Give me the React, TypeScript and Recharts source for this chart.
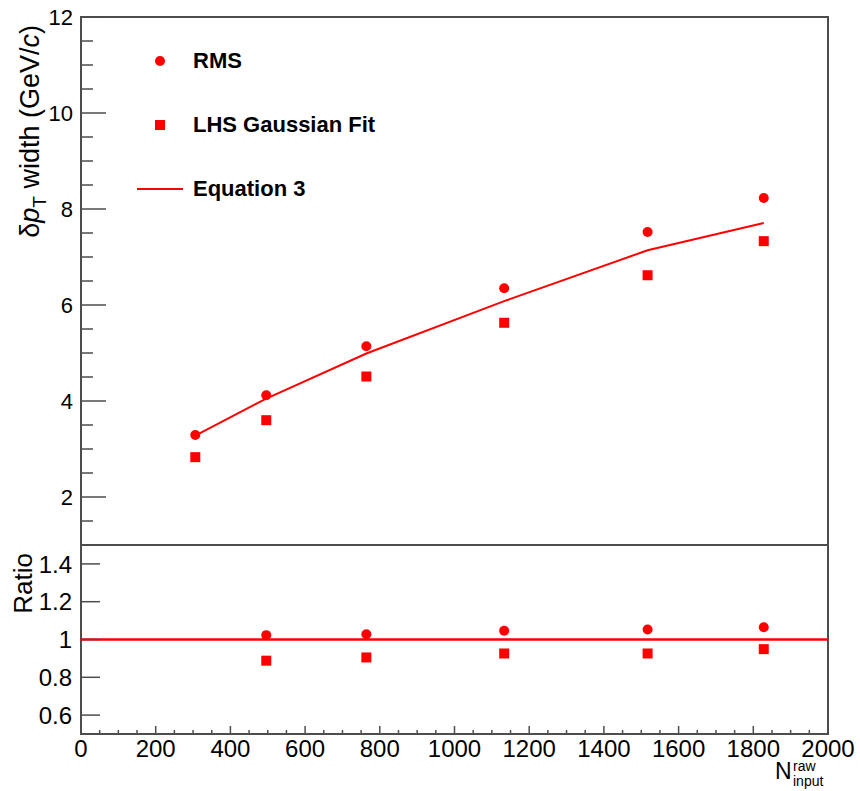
import {
  ComposedChart,
  Line,
  Scatter,
  XAxis,
  YAxis,
  ReferenceArea,
  ReferenceLine,
  Legend,
  Label,
} from "recharts";

const FONT = '"Liberation Sans", Arial, Helvetica, sans-serif';
const RED = "#ff0000";
const AXIS = "#4d4d4d";

// N_input^raw of each centrality point
const nInput = [306, 496, 764, 1133, 1517, 1828];
// delta pT width (GeV/c)
const rmsWidth = [3.29, 4.12, 5.14, 6.35, 7.52, 8.23];
const lhsWidth = [2.83, 3.6, 4.51, 5.63, 6.62, 7.33];
const eq3Width = [3.28, 4.05, 4.99, 6.08, 7.14, 7.71];

// ratio panel (relative to Equation 3)
const ratioN = [496, 764, 1133, 1517, 1828];
const rmsRatio = [1.023, 1.028, 1.046, 1.053, 1.065];
const lhsRatio = [0.888, 0.905, 0.926, 0.926, 0.949];

const xMajorTicks = [0, 200, 400, 600, 800, 1000, 1200, 1400, 1600, 1800, 2000];
const xMinorTicks = [
  50, 100, 150, 250, 300, 350, 450, 500, 550, 650, 700, 750, 850, 900, 950,
  1050, 1100, 1150, 1250, 1300, 1350, 1450, 1500, 1550, 1650, 1700, 1750,
  1850, 1900, 1950,
];
const upperYMajor = [2, 4, 6, 8, 10, 12];
const upperYMinor = [
  1.5, 2.5, 3, 3.5, 4.5, 5, 5.5, 6.5, 7, 7.5, 8.5, 9, 9.5, 10.5, 11, 11.5,
];
const lowerYMajor = [0.6, 0.8, 1, 1.2, 1.4];

const legendItems = [
  { name: "RMS", kind: "circle" },
  { name: "LHS Gaussian Fit", kind: "square" },
  { name: "Equation 3", kind: "line" },
];

const xTicks = [...xMajorTicks, ...xMinorTicks].sort((a, b) => a - b);
const upperYTicks = [...upperYMajor, ...upperYMinor].sort((a, b) => a - b);

const toPoints = (xs: number[], ys: number[]) =>
  xs.map((x, i) => ({ x, y: ys[i] }));

const circleShape = (p: any) => <circle cx={p.cx} cy={p.cy} r={5} fill={RED} />;
const squareShape = (p: any) => (
  <rect x={p.cx - 5} y={p.cy - 5} width={10} height={10} fill={RED} />
);

function UpperYTick(props: any) {
  const { x, y, payload } = props;
  const major = upperYMajor.includes(payload.value);
  return (
    <g>
      <line x1={x} x2={x + (major ? 25 : 12)} y1={y} y2={y} stroke={AXIS} strokeWidth={1.5} />
      {major && (
        <text x={x - 8} y={y} dy="0.36em" textAnchor="end" fontSize={22} fontFamily={FONT} fill="#000">
          {payload.value}
        </text>
      )}
    </g>
  );
}

function LowerYTick(props: any) {
  const { x, y, payload } = props;
  return (
    <g>
      <line x1={x} x2={x + 19} y1={y} y2={y} stroke={AXIS} strokeWidth={1.5} />
      <text x={x - 9} y={y} dy="0.36em" textAnchor="end" fontSize={24} fontFamily={FONT} fill="#000">
        {payload.value}
      </text>
    </g>
  );
}

function UpperXTick(props: any) {
  const { x, y, payload } = props;
  const major = xMajorTicks.includes(payload.value);
  return <line x1={x} x2={x} y1={y} y2={y - (major ? 14 : 7)} stroke={AXIS} strokeWidth={1.5} />;
}

function LowerXTick(props: any) {
  const { x, y, payload } = props;
  const major = xMajorTicks.includes(payload.value);
  return (
    <g>
      <line x1={x} x2={x} y1={y} y2={y - (major ? 8 : 4)} stroke={AXIS} strokeWidth={1.5} />
      {major && (
        <text x={x} y={y + 23} textAnchor="middle" fontSize={24} fontFamily={FONT} fill="#000">
          {payload.value}
        </text>
      )}
    </g>
  );
}

function UpperYTitle(props: any) {
  const vb = props.viewBox;
  const bx = vb.x + 39;
  const ty = vb.y + 8;
  return (
    <text
      x={bx}
      y={ty}
      transform={`rotate(-90 ${bx} ${ty})`}
      textAnchor="end"
      fontSize={27}
      fontFamily={FONT}
      fill="#000"
    >
      δ<tspan fontStyle="italic">p</tspan>
      <tspan fontSize={19} dy={7}>T</tspan>
      <tspan dy={-7}> width (GeV/</tspan>
      <tspan fontStyle="italic">c</tspan>)
    </text>
  );
}

function RatioTitle(props: any) {
  const vb = props.viewBox;
  const bx = vb.x + 32;
  const ty = vb.y + 8;
  return (
    <text
      x={bx}
      y={ty}
      transform={`rotate(-90 ${bx} ${ty})`}
      textAnchor="end"
      fontSize={26}
      fontFamily={FONT}
      fill="#000"
    >
      Ratio
    </text>
  );
}

function XTitle(props: any) {
  const vb = props.viewBox;
  const nx = vb.x + vb.width - 53;
  const base = vb.y + 45;
  return (
    <g fontFamily={FONT} fill="#000">
      <text x={nx} y={base} fontSize={23}>N</text>
      <text x={nx + 18} y={base - 8} fontSize={14}>raw</text>
      <text x={nx + 18} y={base + 7} fontSize={14}>input</text>
    </g>
  );
}

function LegendBox() {
  return (
    <div style={{ fontFamily: FONT, fontWeight: "bold", fontSize: 22, color: "#000" }}>
      {legendItems.map((it) => (
        <div key={it.name} style={{ display: "flex", alignItems: "center", height: 64 }}>
          <svg width={63} height={64} style={{ flex: "none" }}>
            {it.kind === "circle" && <circle cx={30} cy={32} r={5} fill={RED} />}
            {it.kind === "square" && <rect x={25} y={27} width={10} height={10} fill={RED} />}
            {it.kind === "line" && <line x1={7} x2={53} y1={32} y2={32} stroke={RED} strokeWidth={2} />}
          </svg>
          <span style={{ whiteSpace: "nowrap" }}>{it.name}</span>
        </div>
      ))}
    </div>
  );
}

export default function App() {
  return (
    <div style={{ position: "absolute", left: 0, top: 0, width: 860, height: 791, background: "#fff" }}>
      <div style={{ position: "absolute", left: 0, top: 0 }}>
        <ComposedChart width={860} height={550} margin={{ top: 17, right: 32, bottom: 5, left: 0 }}>
          <XAxis
            dataKey="x"
            type="number"
            domain={[0, 2000]}
            ticks={xTicks}
            interval={0}
            height={0}
            tickSize={0}
            tickMargin={0}
            axisLine={false}
            tickLine={false}
            tick={<UpperXTick />}
          />
          <YAxis
            type="number"
            domain={[1, 12]}
            ticks={upperYTicks}
            interval={0}
            width={81}
            tickSize={0}
            tickMargin={0}
            axisLine={false}
            tickLine={false}
            tick={<UpperYTick />}
          >
            <Label content={<UpperYTitle />} />
          </YAxis>
          <ReferenceArea x1={0} x2={2000} y1={1} y2={12} fill="none" stroke={AXIS} strokeWidth={2} />
          <Line
            data={toPoints(nInput, eq3Width)}
            dataKey="y"
            type="linear"
            stroke={RED}
            strokeWidth={2}
            dot={false}
            isAnimationActive={false}
          />
          <Scatter data={toPoints(nInput, rmsWidth)} dataKey="y" shape={circleShape} isAnimationActive={false} />
          <Scatter data={toPoints(nInput, lhsWidth)} dataKey="y" shape={squareShape} isAnimationActive={false} />
          <Legend
            layout="horizontal"
            verticalAlign="middle"
            align="center"
            wrapperStyle={{ left: 130, top: 29, width: 320 }}
            content={() => <LegendBox />}
          />
        </ComposedChart>
      </div>
      <div style={{ position: "absolute", left: 0, top: 540 }}>
        <ComposedChart width={860} height={251} margin={{ top: 5, right: 32, bottom: 0, left: 0 }}>
          <XAxis
            dataKey="x"
            type="number"
            domain={[0, 2000]}
            ticks={xTicks}
            interval={0}
            height={57}
            tickSize={0}
            tickMargin={0}
            axisLine={false}
            tickLine={false}
            tick={<LowerXTick />}
          >
            <Label content={<XTitle />} />
          </XAxis>
          <YAxis
            type="number"
            domain={[0.5, 1.5]}
            ticks={lowerYMajor}
            interval={0}
            width={81}
            tickSize={0}
            tickMargin={0}
            axisLine={false}
            tickLine={false}
            tick={<LowerYTick />}
          >
            <Label content={<RatioTitle />} />
          </YAxis>
          <ReferenceArea x1={0} x2={2000} y1={0.5} y2={1.5} fill="none" stroke={AXIS} strokeWidth={2} />
          <ReferenceLine y={1} stroke={RED} strokeWidth={2.5} />
          <Scatter data={toPoints(ratioN, rmsRatio)} dataKey="y" shape={circleShape} isAnimationActive={false} />
          <Scatter data={toPoints(ratioN, lhsRatio)} dataKey="y" shape={squareShape} isAnimationActive={false} />
        </ComposedChart>
      </div>
    </div>
  );
}
